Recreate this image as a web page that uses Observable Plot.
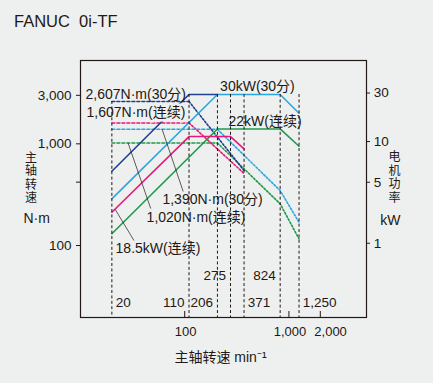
<!DOCTYPE html>
<html><head><meta charset="utf-8">
<script src="https://cdn.jsdelivr.net/npm/d3@7"></script>
<script src="https://cdn.jsdelivr.net/npm/@observablehq/plot@0.6"></script>
<style>
html,body{margin:0;padding:0;background:#eef0ef;}
#wrap{width:433px;height:383px;position:relative;overflow:hidden;background:#eef0ef;}
#title{position:absolute;left:14px;top:12.7px;font:16.5px/1 "Liberation Sans","Noto Sans CJK SC",sans-serif;color:#231815;white-space:pre;}
#chart{position:absolute;left:0;top:40px;}
</style></head><body>
<div id="wrap"><div id="title"></div><div id="chart"></div></div>
<script>
const FONT = '"Liberation Sans","Noto Sans CJK SC",sans-serif';
const INK = "#231815";
const BG = "#eef0ef";

const titleText = "FANUC  0i-TF";
const xTitle = "主轴转速 min⁻¹";
const leftTitle = "主\n轴\n转\n速";
const leftUnit = "N·m";
const rightTitle = "电\n机\n功\n率";
const rightUnit = "kW";

// right axis: 1 kW drawn at this N·m level of the left axis
const KW = 105.3;

// torque curves (left axis, N·m) vs spindle speed (min^-1)
const navyTorqueSpeed = [20, 110, 371];
const navyTorque = [2607, 2607, 546];
const pinkTorqueSpeed = [20, 110, 371];
const pinkTorque = [1607, 1607, 511];
const blueTorqueSpeed = [20, 206, 824, 1250];
const blueTorque = [1390, 1390, 347, 169];
const greenTorqueSpeed = [20, 206, 824, 1250];
const greenTorque = [1020, 1020, 257, 116];

// power curves (right axis, kW)
const navyPowerSpeed = [20, 110, 206];
const navyPower = [5.1, 29, 29];
const bluePowerSpeed = [20, 206, 824, 1250];
const bluePower = [2.73, 29, 29, 19];
const pinkPowerSpeed = [20, 110, 275, 371];
const pinkPower = [2.02, 11.2, 11.2, 8.47];
const greenPowerSpeed = [20, 206, 824, 1250];
const greenPower = [1.24, 13.3, 13.3, 8.99];

// characteristic speeds
const speedMarks = [20, 110, 206, 275, 371, 824, 1250];
const speedMarkLabels = ["20", "110", "206", "275", "371", "824", "1,250"];
const speedLabelSide = ["right", "left", "left", "left", "right", "left", "right"];
const speedLabelRow = ["low", "low", "low", "high", "low", "high", "low"];

// axis ticks
const leftTickValues = [100, 420, 1000, 3000];
const leftTickLabels = ["100", "", "1,000", "3,000"];
const rightTickAt = [1, 3.98, 10, 30];
const rightTickLabels = ["1", "5", "10", "30"];
const xTickValues = [100, 1000, 2000];
const xTickLabels = ["100", "1,000", "2,000"];

// annotations (anchor speed, anchor N·m level)
const annotText = ["2,607N·m(30分)", "1,607N·m(连续)", "30kW(30分)", "22kW(连续)", "1,390N·m(30分)", "1,020N·m(连续)", "18.5kW(连续)"];
const annotSpeed = [11.17, 11.42, 218.5, 263, 61.1, 43.1, 21.7];
const annotValue = [3034, 2045, 3659, 1668, 281, 187, 92.8];
const annotHalo = [false, true, false, false, false, false, false];

// leader lines
const leaderX1 = [60.7, 28.6, 21.5];
const leaderY1 = [1390, 1020, 227];
const leaderX2 = [96.7, 47.2, 32.6];
const leaderY2 = [340, 231, 112];

const COLORS = {navy: "#213f8f", blue: "#29a7e1", pink: "#e6187c", green: "#1f9a4a"};

document.getElementById("title").textContent = titleText;

const W = 433, H = 343, ML = 80, MR = 67, MT = 20, MB = 66;
const FW = W - ML - MR, FH = H - MT - MB;

const zip = (xs, ys) => xs.map((x, i) => ({s: x, v: ys[i]}));
const series = [
  {c: COLORS.green, t: zip(greenTorqueSpeed, greenTorque), p: zip(greenPowerSpeed, greenPower)},
  {c: COLORS.pink, t: zip(pinkTorqueSpeed, pinkTorque), p: zip(pinkPowerSpeed, pinkPower)},
  {c: COLORS.blue, t: zip(blueTorqueSpeed, blueTorque), p: zip(bluePowerSpeed, bluePower)},
  {c: COLORS.navy, t: zip(navyTorqueSpeed, navyTorque), p: zip(navyPowerSpeed, navyPower)}
];

const marks = [];
for (const sr of series) {
  marks.push(Plot.line(sr.t.slice(0, 2), {x: "s", y: "v", stroke: sr.c, strokeWidth: 1.5, strokeDasharray: "3,2"}));
  marks.push(Plot.line(sr.t.slice(1), {x: "s", y: "v", stroke: sr.c, strokeWidth: 1.6, strokeDasharray: "1.8,1.8"}));
}
for (const sr of series) {
  marks.push(Plot.line(sr.p, {x: "s", y: d => d.v * KW, stroke: sr.c, strokeWidth: 1.6}));
}

const annots = annotText.map((t, i) => ({t, s: annotSpeed[i], v: annotValue[i], halo: annotHalo[i]}));
marks.push(Plot.text(annots.filter(d => d.halo), {x: "s", y: "v", text: "t", textAnchor: "start", lineAnchor: "middle",
  fill: INK, stroke: BG, strokeWidth: 5, fontSize: 14, fontFamily: FONT}));
marks.push(Plot.text(annots.filter(d => !d.halo), {x: "s", y: "v", text: "t", textAnchor: "start", lineAnchor: "middle",
  fill: INK, fontSize: 14, fontFamily: FONT}));

const leaders = leaderX1.map((x, i) => ({x1: x, y1: leaderY1[i], x2: leaderX2[i], y2: leaderY2[i]}));
marks.push(Plot.link(leaders, {x1: "x1", y1: "y1", x2: "x2", y2: "y2", stroke: INK, strokeWidth: 0.7}));

// vertical dashed guide lines, from the top curve level down to the axis
const yMin = 19.6, yMax = 6600;
const rules = speedMarks.map((s, i) => ({s, top: i === 0 ? navyTorque[0] : navyPower[1] * KW}));
marks.push(Plot.ruleX(rules, {x: "s", y1: "top", y2: yMin, stroke: INK, strokeWidth: 1, strokeDasharray: "3,2.4"}));

// speed labels
const speedLabs = speedMarks.map((s, i) => ({s, t: speedMarkLabels[i], side: speedLabelSide[i], row: speedLabelRow[i]}));
for (const side of ["left", "right"]) {
  for (const row of ["low", "high"]) {
    marks.push(Plot.text(speedLabs.filter(d => d.side === side && d.row === row), {
      x: "s", text: "t", frameAnchor: "bottom",
      dx: side === "left" ? -4.5 : 3.8, dy: row === "low" ? -14.7 : -41.7,
      textAnchor: side === "left" ? "end" : "start", lineAnchor: "middle",
      fill: INK, fontSize: 13.5, fontFamily: FONT
    }));
  }
}

// axes (drawn explicitly: ticks outward on the y sides, inward on the x side)
const leftTicks = leftTickValues.map((v, i) => ({v, t: leftTickLabels[i]}));
const rightTicks = rightTickAt.map((k, i) => ({v: k * KW, t: rightTickLabels[i]}));
const xTicks = xTickValues.map((v, i) => ({v, t: xTickLabels[i], last: i === xTickValues.length - 1}));
marks.push(Plot.tickY(leftTicks, {y: "v", insetRight: FW - 4, dx: -4, stroke: INK, strokeWidth: 1}));
marks.push(Plot.text(leftTicks, {y: "v", text: "t", frameAnchor: "left", dx: -9, textAnchor: "end", lineAnchor: "middle", fill: INK, fontSize: 13.5, fontFamily: FONT}));
marks.push(Plot.tickY(rightTicks, {y: "v", insetLeft: FW - 4, dx: 4, stroke: INK, strokeWidth: 1}));
marks.push(Plot.text(rightTicks, {y: "v", text: "t", frameAnchor: "right", dx: 7.3, textAnchor: "start", lineAnchor: "middle", fill: INK, fontSize: 13.5, fontFamily: FONT}));
marks.push(Plot.tickX(xTicks, {x: "v", insetTop: FH - 6, stroke: INK, strokeWidth: 1}));
marks.push(Plot.text(xTicks.filter(d => !d.last), {x: "v", text: "t", frameAnchor: "bottom", dx: 1, dy: 14, lineAnchor: "middle", fill: INK, fontSize: 13, fontFamily: FONT}));
marks.push(Plot.text(xTicks.filter(d => d.last), {x: "v", text: "t", frameAnchor: "bottom", dx: -6, dy: 14, textAnchor: "start", lineAnchor: "middle", fill: INK, fontSize: 13, fontFamily: FONT}));
marks.push(Plot.frame({stroke: INK, strokeWidth: 1.2}));

// axis titles
marks.push(Plot.text([xTitle], {text: d => d, frameAnchor: "bottom", dx: -3, dy: 40.5, lineAnchor: "middle", fill: INK, fontSize: 14, fontFamily: FONT}));
marks.push(Plot.text([leftTitle], {text: d => d, frameAnchor: "top-left", dx: -55.5, dy: 117.2, lineAnchor: "middle", lineHeight: 1.13, fill: INK, fontSize: 12, fontFamily: FONT}));
marks.push(Plot.text([leftUnit], {text: d => d, frameAnchor: "top-left", dx: -57, dy: 158.3, lineAnchor: "middle", fill: INK, fontSize: 14, fontFamily: FONT}));
marks.push(Plot.text([rightTitle], {text: d => d, frameAnchor: "top-right", dx: 34, dy: 116.8, lineAnchor: "middle", lineHeight: 1.13, fill: INK, fontSize: 12, fontFamily: FONT}));
marks.push(Plot.text([rightUnit], {text: d => d, frameAnchor: "top-right", dx: 34, dy: 160, lineAnchor: "middle", fill: INK, fontSize: 14, fontFamily: FONT}));

const chart = Plot.plot({
  width: W, height: H,
  marginLeft: ML, marginRight: MR, marginTop: MT, marginBottom: MB,
  style: {background: "transparent", fontFamily: FONT, fontSize: "13.5px", color: INK},
  x: {type: "log", domain: [10, 5550], axis: null},
  y: {type: "log", domain: [yMin, yMax], axis: null},
  marks
});
document.getElementById("chart").appendChild(chart);
</script>
</body></html>
